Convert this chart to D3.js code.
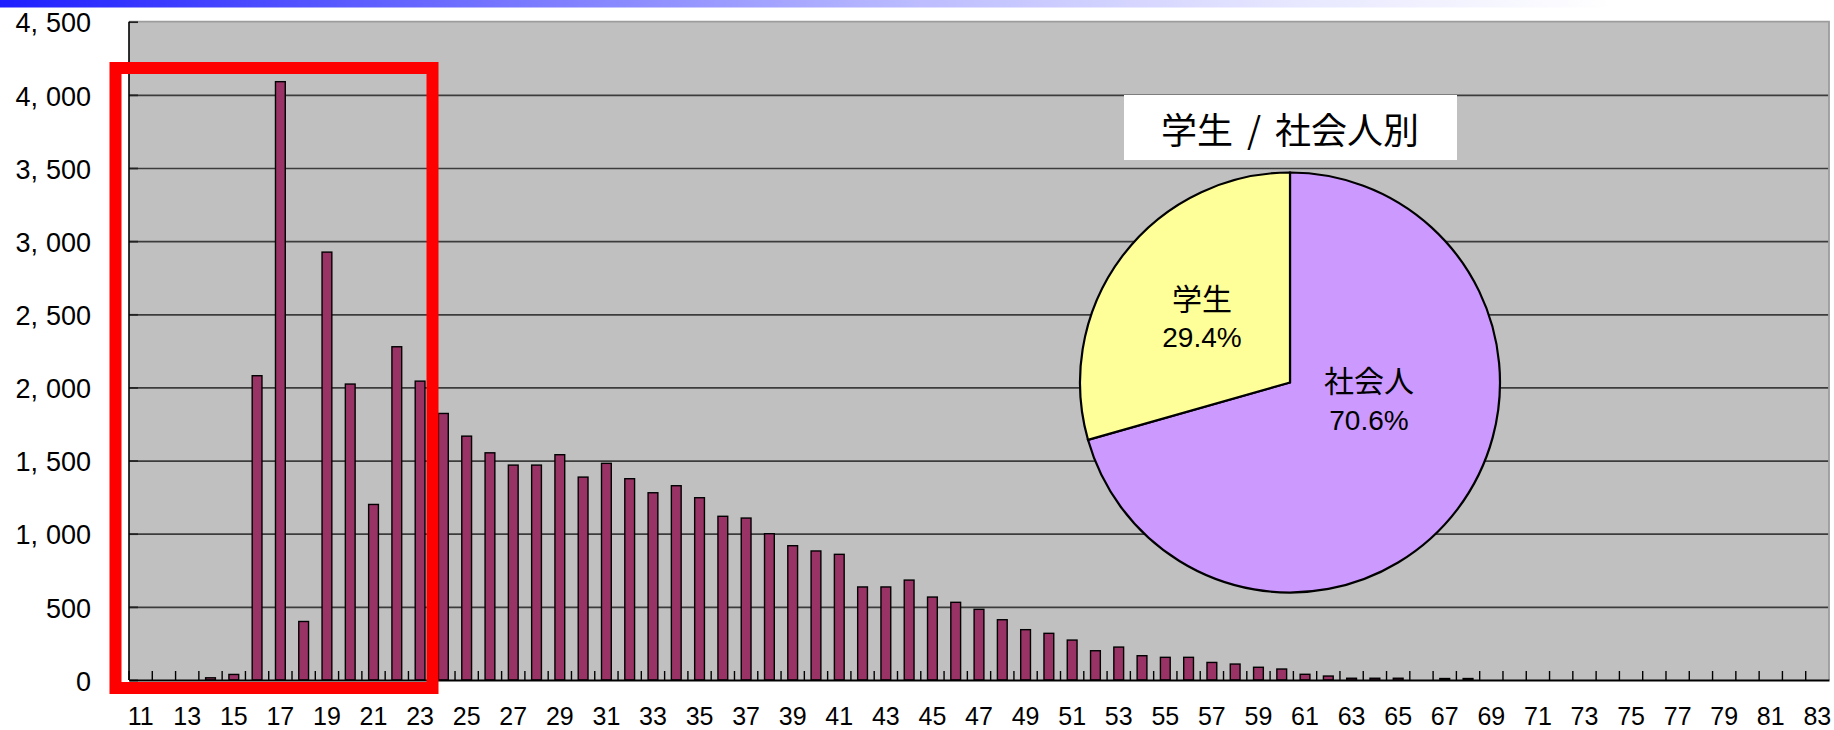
<!DOCTYPE html>
<html>
<head>
<meta charset="utf-8">
<script src="https://cdn.jsdelivr.net/npm/d3@7"></script>
<style>
  body { margin: 0; background: #fff; }
  svg { display: block; }
</style>
</head>
<body>
<div id="dataviz"></div>
<script>
// dati: eta' e numero di persone
var ages = [11, 12, 13, 14, 15, 16, 17, 18, 19, 20, 21, 22, 23, 24, 25, 26, 27, 28, 29, 30,
	31, 32, 33, 34, 35, 36, 37, 38, 39, 40, 41, 42, 43, 44, 45, 46, 47, 48, 49, 50,
	51, 52, 53, 54, 55, 56, 57, 58, 59, 60, 61, 62, 63, 64, 65, 66, 67, 68, 69, 70,
	71, 72, 73, 74, 75, 76, 77, 78, 79, 80, 81, 82, 83];
var counts = [0, 0, 0, 15, 38, 2080, 4090, 400, 2925, 2023, 1200, 2278, 2043, 1822, 1667, 1553, 1469, 1469, 1540, 1387,
	1481, 1376, 1280, 1328, 1246, 1119, 1107, 1000, 918, 882, 859, 636, 636, 683, 567, 531, 483, 412, 344, 319,
	273, 200, 225, 166, 155, 155, 120, 109, 87, 75, 39, 27, 12, 12, 12, 0, 10, 10, 0, 0,
	0, 0, 0, 0, 0, 0, 0, 0, 0, 0, 0, 0, 0];
var xLabels = [11, 13, 15, 17, 19, 21, 23, 25, 27, 29, 31, 33, 35, 37, 39, 41, 43, 45, 47, 49,
	51, 53, 55, 57, 59, 61, 63, 65, 67, 69, 71, 73, 75, 77, 79, 81, 83];
var yTicks = [0, 500, 1000, 1500, 2000, 2500, 3000, 3500, 4000, 4500];

// torta studenti / lavoratori
var pieTitle = "学生 / 社会人別";
var pieNames = ["社会人", "学生"];
var pieValues = [70.6, 29.4];

function bar_chart(){
	var width = 1834;
	var height = 730;
	var left = 129, right = 1829, top = 21.7, bottom = 680;

	var svg = d3.select("#dataviz").append("svg")
		.attr("width", width)
		.attr("height", height);

	// barra sfumata in alto
	var grad = svg.append("defs").append("linearGradient")
		.attr("id", "topbar");
	[[0, "#1e1eff"], [0.25, "#6e6eff"], [0.5, "#bcbcff"], [0.7, "#e6e6ff"], [0.88, "#ffffff"]].forEach(function(s){
		grad.append("stop").attr("offset", s[0]).attr("stop-color", s[1]);
	});
	svg.append("rect")
		.attr("x", 0).attr("y", 0)
		.attr("width", width).attr("height", 7.5)
		.attr("fill", "url(#topbar)");

	var x = d3.scaleBand()
		.domain(ages)
		.range([left, right])
		.paddingInner(0.58)
		.paddingOuter(0.29);

	var y = d3.scaleLinear()
		.domain([0, 4500])
		.range([bottom, top]);

	// sfondo grigio
	svg.append("rect")
		.attr("x", left).attr("y", top)
		.attr("width", right - left).attr("height", bottom - top)
		.attr("fill", "#c0c0c0");

	// griglia
	svg.append("g")
		.attr("transform", "translate(" + left + ",0)")
		.call(d3.axisLeft(y).tickValues(yTicks.slice(1, -1)).tickSize(-(right - left)).tickFormat(""))
		.call(function(g){ g.select(".domain").remove(); })
		.selectAll("line")
		.attr("stroke", "#3c3c3c")
		.attr("stroke-width", 1.7);

	// bordo sopra e a destra
	svg.append("path")
		.attr("d", "M" + left + "," + y(4500) + "H" + right + "V" + bottom)
		.attr("fill", "none")
		.attr("stroke", "#9c9c9c")
		.attr("stroke-width", 1.8);

	// barre (solo quelle con valore)
	var data = ages.map(function(a, i){ return {age: a, n: counts[i]}; })
		.filter(function(d){ return d.n > 0; });

	svg.append("g").selectAll("rect")
		.data(data)
		.enter()
		.append("rect")
		.attr("x", function(d){ return x(d.age); })
		.attr("y", function(d){ return y(d.n); })
		.attr("width", x.bandwidth())
		.attr("height", function(d){ return bottom - y(d.n); })
		.attr("fill", "#993366")
		.attr("stroke", "#000")
		.attr("stroke-width", 1.4);

	// asse y
	var fmt = d3.format(",");
	var yAxis = svg.append("g")
		.attr("transform", "translate(" + left + ",0)")
		.call(d3.axisLeft(y).tickValues(yTicks).tickSize(-9).tickPadding(38));
	yAxis.select(".domain").remove();
	yAxis.selectAll("line").attr("stroke", "#222").attr("stroke-width", 1.7);
	yAxis.selectAll("text")
		.attr("font-family", "'Liberation Sans', Arial, sans-serif")
		.attr("font-size", 27)
		.attr("fill", "#000")
		.attr("dy", "0.38em")
		.each(function(d){
			var s = fmt(d);
			var t = d3.select(this).text("");
			var k = s.indexOf(",");
			if (k < 0) {
				t.append("tspan").text(s);
			} else {
				t.append("tspan").text(s.slice(0, k + 1));
				t.append("tspan").attr("dx", 8).text(s.slice(k + 1));
			}
		});

	svg.append("line")
		.attr("x1", left).attr("x2", left)
		.attr("y1", top).attr("y2", bottom)
		.attr("stroke", "#000").attr("stroke-width", 1.6);

	// asse x: tacche tra le categorie
	var step = x.step();
	svg.append("g").selectAll("line")
		.data(ages)
		.enter()
		.append("line")
		.attr("x1", function(d){ return x(d) - (step - x.bandwidth()) / 2; })
		.attr("x2", function(d){ return x(d) - (step - x.bandwidth()) / 2; })
		.attr("y1", bottom)
		.attr("y2", bottom - 9)
		.attr("stroke", "#000")
		.attr("stroke-width", 1.4);

	var xAxis = svg.append("g")
		.attr("transform", "translate(0," + bottom + ")")
		.call(d3.axisBottom(x).tickValues(xLabels).tickSize(0).tickPadding(27));
	xAxis.select(".domain")
		.attr("stroke", "#000")
		.attr("stroke-width", 2);
	xAxis.selectAll("text")
		.attr("font-family", "'Liberation Sans', Arial, sans-serif")
		.attr("font-size", 25)
		.attr("fill", "#000");

	// torta
	var cx = 1290, cy = 382.5, r = 210;
	var pieColors = ["#cc99ff", "#ffff99"];
	var labelAt = [[79, 16.5], [-88, -66]];

	svg.append("rect")
		.attr("x", 1124).attr("y", 95)
		.attr("width", 333).attr("height", 65)
		.attr("fill", "#fff");
	var title = svg.append("text")
		.attr("x", cx).attr("y", 128)
		.attr("text-anchor", "middle")
		.attr("dominant-baseline", "central")
		.attr("font-family", "'Noto Sans CJK JP', sans-serif")
		.attr("font-size", 36)
		.attr("fill", "#000")
		.text(pieTitle)
		.attr("word-spacing", 6);

	var pie = d3.pie().sort(null)(pieValues);
	var arc = d3.arc().innerRadius(0).outerRadius(r);

	var gp = svg.append("g").attr("transform", "translate(" + cx + "," + cy + ")");
	gp.selectAll("path")
		.data(pie)
		.enter()
		.append("path")
		.attr("d", arc)
		.attr("fill", function(d, i){ return pieColors[i]; })
		.attr("stroke", "#000")
		.attr("stroke-width", 2.2);

	var lab = gp.selectAll(".lab")
		.data(pie)
		.enter()
		.append("g")
		.attr("class", "lab")
		.attr("transform", function(d, i){ return "translate(" + labelAt[i][0] + "," + labelAt[i][1] + ")"; });
	lab.append("text")
		.attr("y", -20)
		.attr("text-anchor", "middle")
		.attr("dominant-baseline", "central")
		.attr("font-family", "'Noto Sans CJK JP', sans-serif")
		.attr("font-size", 30)
		.text(function(d, i){ return pieNames[i]; });
	lab.append("text")
		.attr("y", 21)
		.attr("text-anchor", "middle")
		.attr("dominant-baseline", "central")
		.attr("font-family", "'Liberation Sans', Arial, sans-serif")
		.attr("font-size", 28)
		.text(function(d){ return d.data.toFixed(1) + "%"; });

	// riquadro rosso
	svg.append("rect")
		.attr("x", x(11) - step * 0.29 - 13.5)
		.attr("y", 68)
		.attr("width", 317)
		.attr("height", 620)
		.attr("fill", "none")
		.attr("stroke", "#ff0000")
		.attr("stroke-width", 12);
}

bar_chart();
</script>
</body>
</html>
